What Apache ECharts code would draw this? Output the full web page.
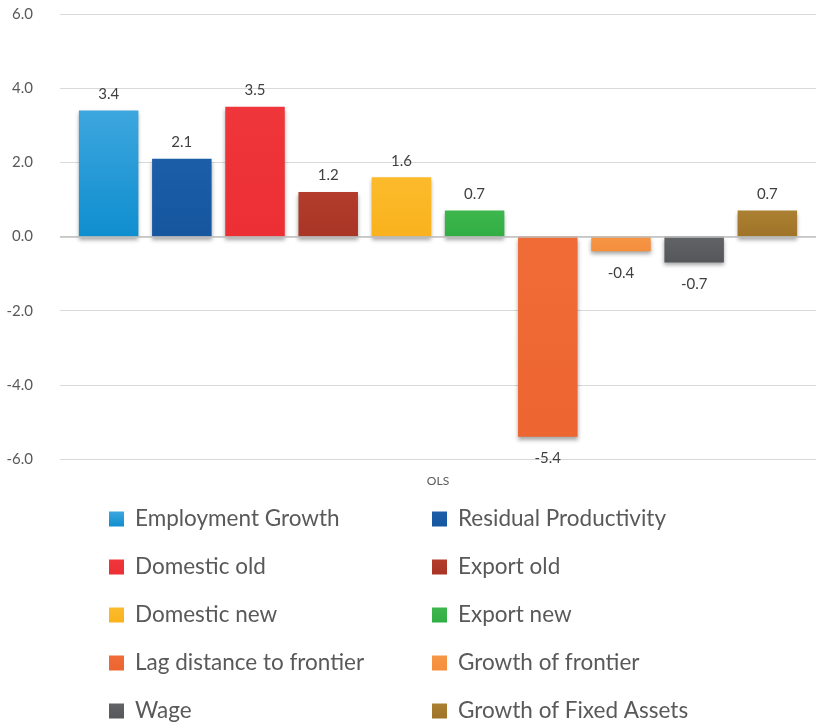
<!DOCTYPE html>
<html>
<head>
<meta charset="utf-8">
<script src="https://cdn.jsdelivr.net/npm/echarts@6/dist/echarts.min.js"></script>
<style>html,body{margin:0;padding:0;background:#fff}#c{width:816px;height:727px}</style>
</head>
<body>
<div id="c"></div>
<script>
var categories = ['OLS'];
var seriesNames = ['Employment Growth','Residual Productivity','Domestic old','Export old','Domestic new','Export new','Lag distance to frontier','Growth of frontier','Wage','Growth of Fixed Assets'];
var seriesValues = [3.4, 2.1, 3.5, 1.2, 1.6, 0.7, -5.4, -0.4, -0.7, 0.7];
var yTicks = [-6, -4, -2, 0, 2, 4, 6];
var colorsTop = ['#3da6de','#1c5ea8','#ef363b','#b33c2c','#fcbb2c','#3db74d','#f06c37','#f69646','#616366','#ac8032'];
var colorsBottom = ['#0f8ecf','#15569f','#ec2f34','#a93526','#f9b21d','#31ae43','#ed6531','#f48e3d','#55575b','#a07428'];

var FONT = 'Lato, "Open Sans", sans-serif';
var series = seriesNames.map(function(n, i){
  var v = seriesValues[i];
  return {
    name: n, type: 'bar',
    data: [v],
    barGap: '23%', barCategoryGap: '5%',
    itemStyle: {
      color: new echarts.graphic.LinearGradient(0,0,0,1,[{offset:0,color:colorsTop[i]},{offset:1,color:colorsBottom[i]}]),
      shadowColor: 'rgba(0,0,0,0.35)', shadowBlur: 4, shadowOffsetY: 3, shadowOffsetX: 0
    },
    label: {
      show: true, position: v >= 0 ? 'top' : 'bottom', distance: v >= 0 ? 9 : 14,
      color: '#404040', fontSize: 15, fontFamily: FONT,
      formatter: function(p){ return p.value.toFixed(1); }
    },
    markLine: i === 0 ? {
      silent: true, symbol: 'none', label: {show:false},
      lineStyle: {color:'#bfbfbf', width: 1.5, type: 'solid'},
      data: [{yAxis: 0}]
    } : undefined
  };
});

var col1 = seriesNames.filter(function(_, i){ return i % 2 === 0; });
var col2 = seriesNames.filter(function(_, i){ return i % 2 === 1; });
function legendFor(data, left){
  return {
    data: data, orient: 'vertical', left: left, top: 507, height: 240, padding: 0,
    icon: 'rect', itemWidth: 15, itemHeight: 15, itemGap: 24,
    textStyle: {color:'#595959', fontSize: 22.5, fontFamily: FONT, lineHeight: 24, padding:[0,0,0,6]}
  };
}

var chart = echarts.init(document.getElementById('c'), null, {renderer:'canvas'});
chart.setOption({
  animation: false,
  legend: [legendFor(col1, 109), legendFor(col2, 432)],
  grid: {left: 60, right: 0, top: 14, bottom: 268},
  xAxis: {
    type: 'category', data: categories,
    axisLine: {show: false, onZero: false}, axisTick: {show: false},
    axisLabel: {color:'#595959', fontSize: 12, fontFamily: FONT, margin: 16}
  },
  yAxis: {
    type: 'value', min: yTicks[0], max: yTicks[yTicks.length-1], interval: 2,
    axisLine: {show:false}, axisTick: {show:false},
    axisLabel: {color:'#595959', fontSize: 15, fontFamily: FONT, margin: 27,
      formatter: function(v){ return v.toFixed(1); }},
    splitLine: {lineStyle: {color:'#d9d9d9', width: 1}}
  },
  series: series
});
</script>
</body>
</html>
